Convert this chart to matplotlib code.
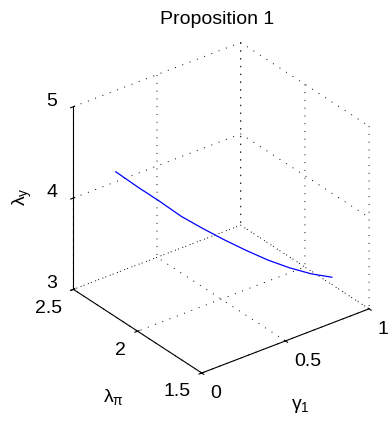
import numpy as np
import matplotlib
matplotlib.use("Agg")
import matplotlib.pyplot as plt

plt.rcParams['font.family'] = ['Liberation Sans', 'DejaVu Sans']
plt.rcParams['mathtext.default'] = 'regular'
plt.rcParams['grid.color'] = 'k'
plt.rcParams['grid.linestyle'] = (0, (1, 7))
plt.rcParams['grid.linewidth'] = 0.7

# curve
gamma1 = [0.0, 0.1, 0.2, 0.3, 0.4, 0.5, 0.6, 0.7, 0.8, 0.9, 1.0]
lambda_pi = [2.17, 2.13, 2.09, 2.05, 2.02, 1.98, 1.94, 1.90, 1.86, 1.82, 1.79]
lambda_y = [4.59, 4.39, 4.20, 4.00, 3.83, 3.67, 3.52, 3.38, 3.26, 3.16, 3.08]

x_ticks = [0, 0.5, 1]
y_ticks = [1.5, 2, 2.5]
z_ticks = [3, 4, 5]

W, H = 388, 423
fig = plt.figure(figsize=(W / 100, H / 100), dpi=100)
ax = fig.add_axes([22 / W, -1.5 / H, 1, 1], projection='3d')
ax.set_proj_type('ortho')
ax.set_box_aspect((1, 1, 1), zoom=0.914)
ax.view_init(elev=30, azim=-127.5)

ax.plot(gamma1, lambda_pi, lambda_y, color='b', linewidth=0.9)

ax.set_xlim(0, 1)
ax.set_ylim(1.5, 2.5)
ax.set_zlim(3, 5)
ax.set_xticks(x_ticks)
ax.set_yticks(y_ticks)
ax.set_zticks(z_ticks)
ax.set_xticklabels(['0', '0.5', '1'], ha='left', va='center_baseline')
ax.set_yticklabels(['1.5', '2', '2.5'], ha='right', va='center_baseline')
ax.set_zticklabels(['3', '4', '5'], ha='right', va='baseline')

for axis in (ax.xaxis, ax.yaxis, ax.zaxis):
    axis.set_pane_color((1, 1, 1, 0))
    axis.pane.set_edgecolor('none')
    axis.line.set_color('k')
    axis.line.set_linewidth(0.8)
ax.tick_params(labelsize=14, pad=2)
ax.zaxis.set_tick_params(pad=0)

# axis labels and title placed like the original figure
fig.text(22 / W, 1 - 197 / H, r'$\lambda_y$', fontsize=14, rotation=90,
         ha='center', va='center')
fig.text(113 / W, 1 - 397 / H, r'$\lambda_\pi$', fontsize=14,
         ha='center', va='center')
fig.text(300 / W, 1 - 406 / H, r'$\gamma_1$', fontsize=14,
         ha='center', va='center')
fig.text(217 / W, 1 - 19 / H, 'Proposition 1', fontsize=14,
         ha='center', va='center')

fig.savefig('out.png', dpi=100)
